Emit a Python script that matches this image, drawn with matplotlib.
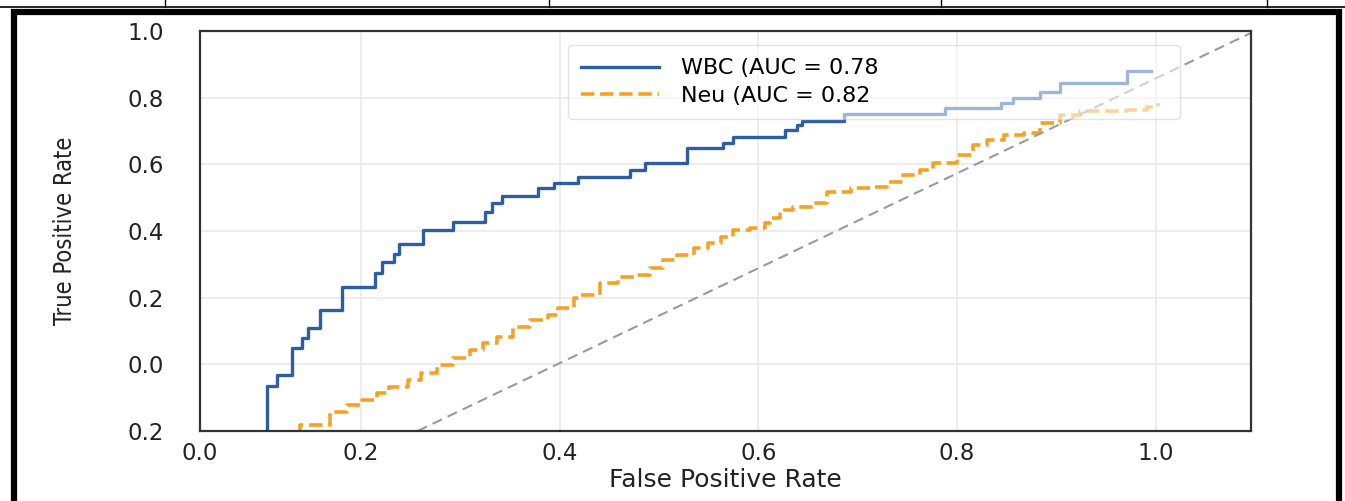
import matplotlib.pyplot as plt
from matplotlib.patches import Rectangle
from matplotlib.lines import Line2D

# ROC curves (axis values as the gridlines show them)
fpr_wbc = [0.105, 0.105, 0.116, 0.131, 0.141, 0.147, 0.159, 0.181, 0.214, 0.221,
           0.233, 0.238, 0.262, 0.293, 0.325, 0.332, 0.342, 0.378, 0.394, 0.419,
           0.471, 0.486, 0.528, 0.564, 0.575, 0.627, 0.639, 0.644, 0.686, 0.788,
           0.844, 0.856, 0.884, 0.904, 0.971, 0.995]
tpr_wbc = [-0.20, -0.066, -0.033, 0.048, 0.078, 0.108, 0.162, 0.232, 0.274, 0.307,
           0.331, 0.361, 0.403, 0.427, 0.457, 0.484, 0.505, 0.529, 0.544, 0.562,
           0.583, 0.605, 0.650, 0.665, 0.683, 0.704, 0.719, 0.731, 0.752, 0.770,
           0.785, 0.800, 0.818, 0.845, 0.881, 0.881]

fpr_neu = [0.137, 0.139, 0.169, 0.186, 0.201, 0.216, 0.228, 0.247, 0.260, 0.277,
           0.293, 0.310, 0.323, 0.337, 0.353, 0.370, 0.388, 0.398, 0.414, 0.421,
           0.441, 0.459, 0.478, 0.491, 0.504, 0.518, 0.535, 0.549, 0.562, 0.575,
           0.592, 0.607, 0.612, 0.622, 0.635, 0.655, 0.669, 0.693, 0.716, 0.730,
           0.746, 0.763, 0.776, 0.800, 0.816, 0.830, 0.847, 0.867, 0.884, 0.904,
           0.924, 0.951, 0.971, 0.991, 1.002]
tpr_neu = [-0.205, -0.183, -0.144, -0.123, -0.108, -0.087, -0.069, -0.048, -0.027, -0.003,
           0.018, 0.042, 0.063, 0.081, 0.111, 0.132, 0.147, 0.168, 0.198, 0.208,
           0.244, 0.262, 0.268, 0.289, 0.313, 0.328, 0.349, 0.364, 0.382, 0.403,
           0.409, 0.424, 0.439, 0.463, 0.472, 0.484, 0.517, 0.529, 0.532, 0.547,
           0.568, 0.583, 0.605, 0.629, 0.659, 0.674, 0.689, 0.695, 0.725, 0.749,
           0.761, 0.761, 0.764, 0.773, 0.785]

chance_x = [0.257, 1.10]
chance_y = [-0.20, 1.00]

labels = ["WBC (AUC = 0.78", "Neu (AUC = 0.82"]

x_ticks = [0.038, 0.2, 0.4, 0.6, 0.8, 1.0]
x_ticklabels = ["0.0", "0.2", "0.4", "0.6", "0.8", "1.0"]
y_ticks = [-0.2, 0.0, 0.2, 0.4, 0.6, 0.8, 1.0]
y_ticklabels = ["0.2", "0.0", "0.2", "0.4", "0.6", "0.8", "1.0"]

plt.rcParams['font.family'] = ['DejaVu Sans']

fig = plt.figure(figsize=(13.45, 5.01), dpi=100)
ax = fig.add_axes([0.1487, 0.1397, 0.7814, 0.7984])

ax.plot(fpr_wbc, tpr_wbc, drawstyle='steps-post', color='#2b5ea3', lw=2.4, label=labels[0])
ax.plot(fpr_neu, tpr_neu, drawstyle='steps-post', color='#f4a124', lw=2.6,
        linestyle='--', label=labels[1])
ax.plot(chance_x, chance_y, color='#9a9a9a', lw=1.5, linestyle=(0, (5, 3)))

ax.set_xlim(0.038, 1.096)
ax.set_ylim(-0.2, 1.0)
ax.set_xticks(x_ticks)
ax.set_xticklabels(x_ticklabels)
ax.set_yticks(y_ticks)
ax.set_yticklabels(y_ticklabels)
ax.tick_params(axis='x', length=0, pad=8, labelsize=16.5, labelcolor='#222222')
ax.tick_params(axis='y', length=0, pad=26, labelsize=16.5, labelcolor='#222222')
ax.grid(True, color='#e8e8e8', lw=1.1)
ax.set_axisbelow(True)
for sp in ax.spines.values():
    sp.set_color('#333333')
    sp.set_linewidth(1.6)

ax.set_xlabel("False Positive Rate", fontsize=18, color='#222222')
ax.xaxis.set_label_coords(0.5, -0.093)
ax.set_ylabel("True Positive Rate", fontsize=17, color='#222222', fontstretch='condensed')
ax.yaxis.set_label_coords(-0.117, 0.5)

ax.legend(loc='upper left', bbox_to_anchor=(0.350, 0.765, 0.582, 0.2), mode='expand',
          borderaxespad=0, fontsize=16, handlelength=3.5, handletextpad=1.0,
          borderpad=0.6, labelspacing=0.35, framealpha=0.55, edgecolor='#cccccc')

# page frame and table rule around the figure
fig.add_artist(Rectangle((13.5 / 1345, -0.05), (1339 - 13.5) / 1345, 1.05 - 12 / 501,
                         transform=fig.transFigure, fill=False, ec='black', lw=4.5))
fig.add_artist(Line2D([0, 1], [494 / 501, 494 / 501], transform=fig.transFigure,
                      color='black', lw=1.2))
for px in [165, 549, 941, 1267]:
    fig.add_artist(Line2D([px / 1345, px / 1345], [494 / 501, 1], transform=fig.transFigure,
                          color='black', lw=1.0))

fig.savefig('out.png', dpi=100)
